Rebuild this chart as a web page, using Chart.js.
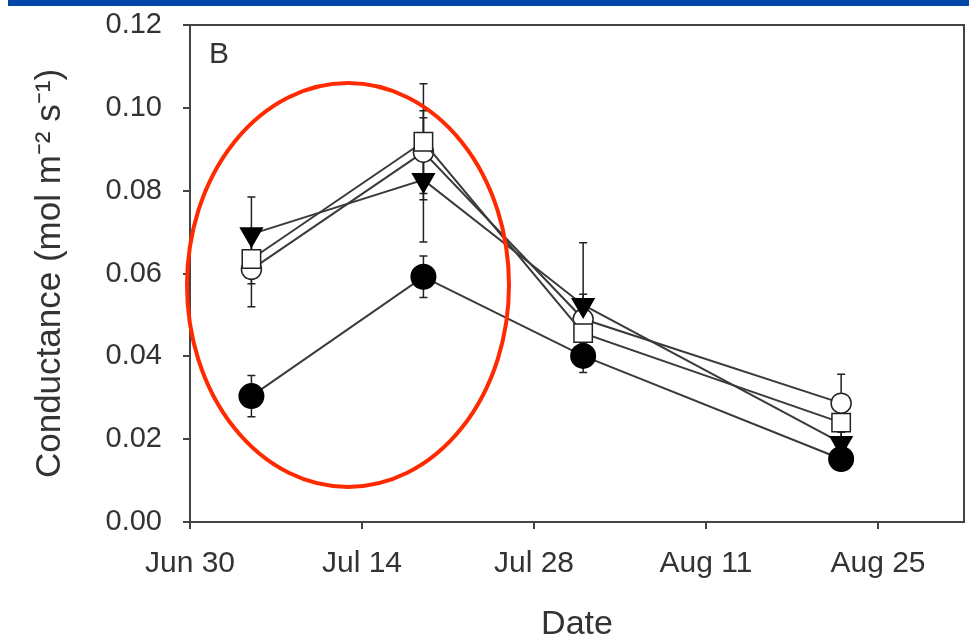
<!DOCTYPE html>
<html>
<head>
<meta charset="utf-8">
<script src="https://cdn.jsdelivr.net/npm/chart.js@4"></script>
<style>
  body { margin: 0; background: #fff; }
  #wrap { width: 969px; height: 642px; }
</style>
</head>
<body>
<div id="wrap"><canvas id="condChart" width="969" height="642"></canvas></div>
<script>
// days after Jun 30
var sampleDays = [5, 19, 32, 53];
var tickDays = [0, 14, 28, 42, 56];
var tickLabels = ['Jun 30', 'Jul 14', 'Jul 28', 'Aug 11', 'Aug 25'];

// conductance (mol m-2 s-1) per treatment
var filledCircle = [0.0304, 0.0592, 0.0401, 0.0152];
var filledTriangle = [0.0695, 0.0826, 0.0524, 0.0191];
var openSquare = [0.0635, 0.0918, 0.0456, 0.0240];
var openCircle = [0.0610, 0.0893, 0.0490, 0.0287];

// error bars (+/-)
var filledCircleErr = [0.005, 0.005, 0.004, 0.002];
var filledTriangleErr = [0.009, 0.015, 0.015, 0.004];
var openSquareErr = [0.006, 0.014, 0.006, 0.004];
var openCircleErr = [0.009, 0.010, 0.006, 0.007];

function pts(vals) {
    return vals.map(function(v, i) { return { x: sampleDays[i], y: v }; });
}

var lineCol = '#3a3a3a';
var txtCol = '#333';
var fam = '"Liberation Sans", Arial, sans-serif';

var datasets = [
    { label: 'filled circle', data: pts(filledCircle), err: filledCircleErr,
      pointStyle: 'circle', pointRadius: 12, backgroundColor: '#000', borderColor: lineCol, pointBorderColor: '#000' },
    { label: 'filled triangle', data: pts(filledTriangle), err: filledTriangleErr,
      pointStyle: 'triangle', rotation: 180, pointRadius: 12, backgroundColor: '#000', borderColor: lineCol, pointBorderColor: '#000' },
    { label: 'open square', data: pts(openSquare), err: openSquareErr,
      pointStyle: 'rect', pointRadius: 13, backgroundColor: '#fff', borderColor: lineCol, pointBorderColor: '#222', pointBorderWidth: 1.5 },
    { label: 'open circle', data: pts(openCircle), err: openCircleErr,
      pointStyle: 'circle', pointRadius: 10, backgroundColor: '#fff', borderColor: lineCol, pointBorderColor: '#222', pointBorderWidth: 1.5 }
];
datasets.forEach(function(d) {
    d.borderWidth = 2;
    d.pointBackgroundColor = d.backgroundColor;
    d.fill = false;
    d.tension = 0;
});

// error bars drawn under the markers
var errorBars = {
    id: 'errorBars',
    beforeDatasetsDraw: function(chart) {
        var c = chart.ctx, xs = chart.scales.x, ys = chart.scales.y;
        c.save();
        c.strokeStyle = '#222';
        c.lineWidth = 1.5;
        chart.data.datasets.forEach(function(ds) {
            ds.data.forEach(function(p, i) {
                var x = xs.getPixelForValue(p.x);
                var yHi = ys.getPixelForValue(p.y + ds.err[i]);
                var yLo = ys.getPixelForValue(p.y - ds.err[i]);
                c.beginPath();
                c.moveTo(x, yHi); c.lineTo(x, yLo);
                c.moveTo(x - 4, yHi); c.lineTo(x + 4, yHi);
                c.moveTo(x - 4, yLo); c.lineTo(x + 4, yLo);
                c.stroke();
            });
        });
        c.restore();
    }
};

// frame, panel letter, blue bar and red ellipse
var decor = {
    id: 'decor',
    afterDraw: function(chart) {
        var c = chart.ctx, a = chart.chartArea;
        c.save();
        c.strokeStyle = '#444';
        c.lineWidth = 2;
        c.beginPath();
        c.moveTo(a.left, a.top); c.lineTo(a.right, a.top); c.lineTo(a.right, a.bottom);
        c.stroke();
        c.fillStyle = txtCol;
        c.font = '30px ' + fam;
        c.textBaseline = 'top';
        c.fillText('B', a.left + 19, a.top + 15);
        c.fillStyle = '#0047a8';
        c.fillRect(8, 0, 961, 6);
        c.strokeStyle = '#ff2a00';
        c.lineWidth = 4;
        c.beginPath();
        c.ellipse(348, 285, 161, 202, 0, 0, Math.PI * 2);
        c.stroke();
        c.restore();
    }
};

var ctx = document.getElementById('condChart').getContext('2d');
var chart = new Chart(ctx, {
    type: 'line',
    data: { datasets: datasets },
    plugins: [errorBars, decor],
    options: {
        responsive: false,
        animation: false,
        layout: { autoPadding: false, padding: { top: 25, right: 5, left: 0, bottom: 0 } },
        plugins: { legend: { display: false }, tooltip: { enabled: false } },
        scales: {
            x: {
                type: 'linear',
                min: 0,
                max: 63,
                afterBuildTicks: function(scale) {
                    scale.ticks = tickDays.map(function(d) { return { value: d }; });
                },
                afterFit: function(scale) { scale.height = 120; },
                ticks: {
                    autoSkip: false,
                    maxRotation: 0,
                    padding: 17,
                    color: txtCol,
                    font: { size: 30, family: fam },
                    callback: function(v) { return tickLabels[tickDays.indexOf(v)]; }
                },
                grid: { drawOnChartArea: false, tickLength: 7, color: '#444', lineWidth: 2 },
                border: { color: '#444', width: 2 },
                title: {
                    display: true,
                    text: 'Date',
                    color: txtCol,
                    font: { size: 34, family: fam, lineHeight: 1 },
                    padding: { top: 0, bottom: 0 }
                }
            },
            y: {
                min: 0,
                max: 0.12,
                afterFit: function(scale) {
                    scale.width = 190;
                    scale.paddingTop = 0;
                    scale.paddingBottom = 0;
                },
                ticks: {
                    stepSize: 0.02,
                    padding: 21,
                    color: txtCol,
                    font: { size: 29, family: fam },
                    callback: function(v) { return v.toFixed(2); }
                },
                grid: { drawOnChartArea: false, tickLength: 7, color: '#444', lineWidth: 2 },
                border: { color: '#444', width: 2 },
                title: {
                    display: true,
                    text: 'Conductance (mol m\u207B\u00B2 s\u207B\u00B9)',
                    color: txtCol,
                    font: { size: 35, family: fam, lineHeight: 1 },
                    padding: { top: 33, bottom: 0 }
                }
            }
        }
    }
});
</script>
</body>
</html>
